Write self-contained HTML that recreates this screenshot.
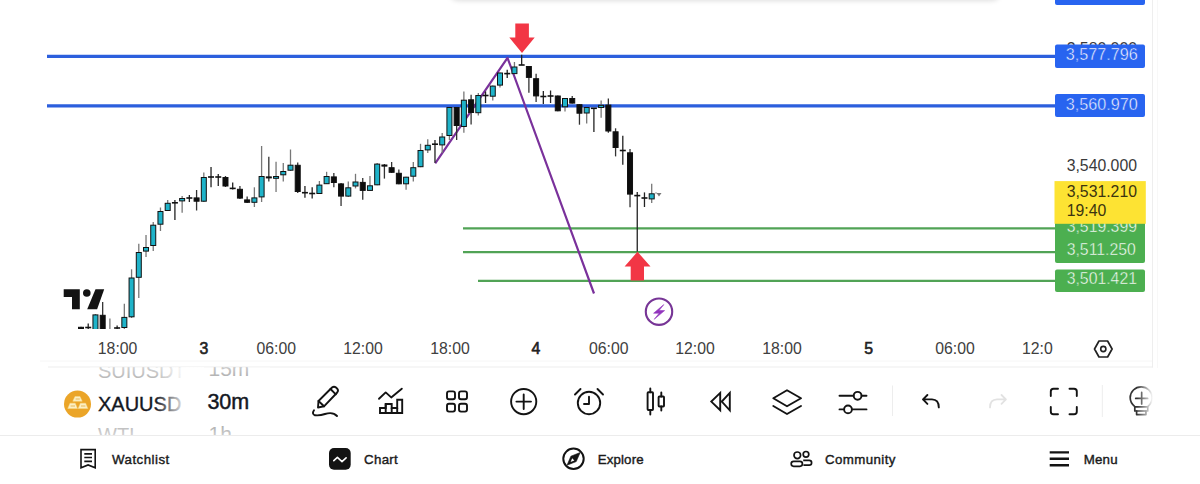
<!DOCTYPE html>
<html><head><meta charset="utf-8">
<style>
html,body{margin:0;padding:0;background:#fff;width:1200px;height:484px;overflow:hidden;}
body{font-family:"Liberation Sans", sans-serif;}
svg{position:absolute;left:0;top:0;display:block;}
text{font-family:"Liberation Sans", sans-serif;}
</style></head><body>
<div style="position:absolute;left:449px;top:-40px;width:552px;height:40px;border-radius:10px;background:#fff;box-shadow:0 0 5px 1px rgba(0,0,0,0.13);"></div>
<svg width="1200" height="484" viewBox="0 0 1200 484">
<defs>
<clipPath id="chartclip"><rect x="0" y="0" width="1152" height="329"/></clipPath>
<linearGradient id="fadeR" x1="0" x2="1" y1="0" y2="0">
<stop offset="0" stop-color="#fff" stop-opacity="0"/><stop offset="1" stop-color="#fff" stop-opacity="1"/>
</linearGradient>
<linearGradient id="fadeTop" x1="0" x2="0" y1="0" y2="1">
<stop offset="0" stop-color="#fff" stop-opacity="1"/><stop offset="1" stop-color="#fff" stop-opacity="0"/>
</linearGradient>
<linearGradient id="fadeBot" x1="0" x2="0" y1="0" y2="1">
<stop offset="0" stop-color="#fff" stop-opacity="0"/><stop offset="1" stop-color="#fff" stop-opacity="1"/>
</linearGradient>
</defs>

<!-- top floating panel shadow -->


<!-- chart panel borders -->
<line x1="1152.5" y1="0" x2="1152.5" y2="367.5" stroke="#eeeeee" stroke-width="1"/>
<line x1="1157.5" y1="0" x2="1157.5" y2="368" stroke="#f8f8f8" stroke-width="1"/>
<line x1="40" y1="361" x2="1152" y2="361" stroke="#f6f6f6" stroke-width="1"/>
<line x1="48" y1="367" x2="1153" y2="367" stroke="#ededed" stroke-width="1"/>

<g clip-path="url(#chartclip)">
<!-- horizontal lines -->
<line x1="47" y1="56.3" x2="1056" y2="56.3" stroke="#2c5fdd" stroke-width="3.3"/>
<line x1="47" y1="105.8" x2="1056" y2="105.8" stroke="#2c5fdd" stroke-width="3.3"/>
<line x1="463" y1="228.3" x2="1056" y2="228.3" stroke="#51a356" stroke-width="2.2"/>
<line x1="463" y1="252.1" x2="1056" y2="252.1" stroke="#51a356" stroke-width="2.2"/>
<line x1="478" y1="280.8" x2="1056" y2="280.8" stroke="#51a356" stroke-width="2.2"/>

<!-- purple trend lines -->
<polyline points="435.2,163.4 507.5,57.8 594,293.5" fill="none" stroke="#7a319b" stroke-width="2.2" stroke-linejoin="round"/>
<line x1="81.00" y1="326.8" x2="81.00" y2="333.0" stroke="#333" stroke-width="1.3"/>
<rect x="78.50" y="327.3" width="5.00" height="5.2" fill="#0d0d0d" stroke="#111" stroke-width="1"/>
<line x1="88.22" y1="323.5" x2="88.22" y2="331.0" stroke="#222" stroke-width="1.3"/>
<line x1="85.22" y1="327.5" x2="91.22" y2="327.5" stroke="#111" stroke-width="1.6"/>
<line x1="95.45" y1="314.0" x2="95.45" y2="335.0" stroke="#777" stroke-width="1.3"/>
<rect x="92.95" y="314.9" width="5.00" height="19.6" fill="#1fb3c9" stroke="#111" stroke-width="1"/>
<line x1="102.67" y1="302.0" x2="102.67" y2="335.0" stroke="#333" stroke-width="1.3"/>
<rect x="100.17" y="315.3" width="5.00" height="19.2" fill="#0d0d0d" stroke="#111" stroke-width="1"/>
<line x1="109.90" y1="318.6" x2="109.90" y2="340.0" stroke="#777" stroke-width="1.3"/>
<rect x="107.40" y="334.5" width="5.00" height="5.0" fill="#1fb3c9" stroke="#111" stroke-width="1"/>
<line x1="117.12" y1="325.6" x2="117.12" y2="331.0" stroke="#222" stroke-width="1.3"/>
<line x1="114.12" y1="328.0" x2="120.12" y2="328.0" stroke="#111" stroke-width="1.6"/>
<line x1="124.34" y1="303.7" x2="124.34" y2="329.5" stroke="#777" stroke-width="1.3"/>
<rect x="121.84" y="317.4" width="5.00" height="10.1" fill="#1fb3c9" stroke="#111" stroke-width="1"/>
<line x1="131.57" y1="269.3" x2="131.57" y2="318.0" stroke="#777" stroke-width="1.3"/>
<rect x="129.07" y="278.0" width="5.00" height="38.8" fill="#1fb3c9" stroke="#111" stroke-width="1"/>
<line x1="138.79" y1="243.7" x2="138.79" y2="298.0" stroke="#777" stroke-width="1.3"/>
<rect x="136.29" y="252.5" width="5.00" height="24.8" fill="#1fb3c9" stroke="#111" stroke-width="1"/>
<line x1="146.02" y1="235.0" x2="146.02" y2="257.0" stroke="#777" stroke-width="1.3"/>
<rect x="143.52" y="247.5" width="5.00" height="3.6" fill="#1fb3c9" stroke="#111" stroke-width="1"/>
<line x1="153.24" y1="222.0" x2="153.24" y2="251.0" stroke="#777" stroke-width="1.3"/>
<rect x="150.74" y="225.2" width="5.00" height="20.3" fill="#1fb3c9" stroke="#111" stroke-width="1"/>
<line x1="160.46" y1="207.5" x2="160.46" y2="231.0" stroke="#777" stroke-width="1.3"/>
<rect x="157.96" y="211.5" width="5.00" height="12.7" fill="#1fb3c9" stroke="#111" stroke-width="1"/>
<line x1="167.69" y1="200.0" x2="167.69" y2="211.0" stroke="#777" stroke-width="1.3"/>
<rect x="165.19" y="203.3" width="5.00" height="7.2" fill="#1fb3c9" stroke="#111" stroke-width="1"/>
<line x1="174.91" y1="200.0" x2="174.91" y2="220.0" stroke="#222" stroke-width="1.3"/>
<line x1="171.91" y1="202.8" x2="177.91" y2="202.8" stroke="#111" stroke-width="1.6"/>
<line x1="182.14" y1="196.0" x2="182.14" y2="212.7" stroke="#777" stroke-width="1.3"/>
<rect x="179.64" y="198.5" width="5.00" height="2.4" fill="#1fb3c9" stroke="#111" stroke-width="1"/>
<line x1="189.36" y1="195.0" x2="189.36" y2="202.0" stroke="#222" stroke-width="1.3"/>
<line x1="186.36" y1="198.0" x2="192.36" y2="198.0" stroke="#111" stroke-width="1.6"/>
<line x1="196.58" y1="190.0" x2="196.58" y2="210.5" stroke="#333" stroke-width="1.3"/>
<rect x="194.08" y="197.9" width="5.00" height="3.3" fill="#0d0d0d" stroke="#111" stroke-width="1"/>
<line x1="203.81" y1="172.6" x2="203.81" y2="202.0" stroke="#777" stroke-width="1.3"/>
<rect x="201.31" y="177.5" width="5.00" height="23.7" fill="#1fb3c9" stroke="#111" stroke-width="1"/>
<line x1="211.03" y1="167.0" x2="211.03" y2="187.3" stroke="#222" stroke-width="1.3"/>
<line x1="208.03" y1="177.0" x2="214.03" y2="177.0" stroke="#111" stroke-width="1.6"/>
<line x1="218.26" y1="174.0" x2="218.26" y2="186.0" stroke="#222" stroke-width="1.3"/>
<line x1="215.26" y1="177.0" x2="221.26" y2="177.0" stroke="#111" stroke-width="1.6"/>
<line x1="225.48" y1="176.0" x2="225.48" y2="187.0" stroke="#333" stroke-width="1.3"/>
<rect x="222.98" y="177.5" width="5.00" height="8.5" fill="#0d0d0d" stroke="#111" stroke-width="1"/>
<line x1="232.70" y1="182.6" x2="232.70" y2="189.6" stroke="#222" stroke-width="1.3"/>
<line x1="229.70" y1="188.4" x2="235.70" y2="188.4" stroke="#111" stroke-width="1.6"/>
<line x1="239.93" y1="186.0" x2="239.93" y2="199.0" stroke="#333" stroke-width="1.3"/>
<rect x="237.43" y="189.3" width="5.00" height="8.8" fill="#0d0d0d" stroke="#111" stroke-width="1"/>
<line x1="247.15" y1="196.6" x2="247.15" y2="203.0" stroke="#333" stroke-width="1.3"/>
<rect x="244.65" y="199.9" width="5.00" height="2.4" fill="#0d0d0d" stroke="#111" stroke-width="1"/>
<line x1="254.38" y1="187.3" x2="254.38" y2="207.0" stroke="#777" stroke-width="1.3"/>
<rect x="251.88" y="197.9" width="5.00" height="4.4" fill="#1fb3c9" stroke="#111" stroke-width="1"/>
<line x1="261.60" y1="146.0" x2="261.60" y2="202.0" stroke="#777" stroke-width="1.3"/>
<rect x="259.10" y="176.5" width="5.00" height="20.4" fill="#1fb3c9" stroke="#111" stroke-width="1"/>
<line x1="268.82" y1="156.7" x2="268.82" y2="181.5" stroke="#333" stroke-width="1.3"/>
<rect x="266.32" y="176.9" width="5.00" height="1.0" fill="#0d0d0d" stroke="#111" stroke-width="1"/>
<line x1="276.05" y1="161.7" x2="276.05" y2="192.0" stroke="#777" stroke-width="1.3"/>
<rect x="273.55" y="176.5" width="5.00" height="1.8" fill="#1fb3c9" stroke="#111" stroke-width="1"/>
<line x1="283.27" y1="163.0" x2="283.27" y2="181.5" stroke="#777" stroke-width="1.3"/>
<rect x="280.77" y="171.5" width="5.00" height="3.3" fill="#1fb3c9" stroke="#111" stroke-width="1"/>
<line x1="290.50" y1="149.5" x2="290.50" y2="171.0" stroke="#777" stroke-width="1.3"/>
<rect x="288.00" y="165.2" width="5.00" height="5.0" fill="#1fb3c9" stroke="#111" stroke-width="1"/>
<line x1="297.72" y1="162.5" x2="297.72" y2="193.0" stroke="#333" stroke-width="1.3"/>
<rect x="295.22" y="165.3" width="5.00" height="26.2" fill="#0d0d0d" stroke="#111" stroke-width="1"/>
<line x1="304.94" y1="186.0" x2="304.94" y2="197.7" stroke="#222" stroke-width="1.3"/>
<line x1="301.94" y1="192.7" x2="307.94" y2="192.7" stroke="#111" stroke-width="1.6"/>
<line x1="312.17" y1="187.3" x2="312.17" y2="198.6" stroke="#222" stroke-width="1.3"/>
<line x1="309.17" y1="193.5" x2="315.17" y2="193.5" stroke="#111" stroke-width="1.6"/>
<line x1="319.39" y1="181.0" x2="319.39" y2="194.0" stroke="#777" stroke-width="1.3"/>
<rect x="316.89" y="185.1" width="5.00" height="8.4" fill="#1fb3c9" stroke="#111" stroke-width="1"/>
<line x1="326.62" y1="171.8" x2="326.62" y2="184.0" stroke="#777" stroke-width="1.3"/>
<rect x="324.12" y="176.5" width="5.00" height="7.2" fill="#1fb3c9" stroke="#111" stroke-width="1"/>
<line x1="333.84" y1="173.0" x2="333.84" y2="187.3" stroke="#333" stroke-width="1.3"/>
<rect x="331.34" y="176.9" width="5.00" height="5.6" fill="#0d0d0d" stroke="#111" stroke-width="1"/>
<line x1="341.06" y1="183.0" x2="341.06" y2="206.0" stroke="#333" stroke-width="1.3"/>
<rect x="338.56" y="183.9" width="5.00" height="12.2" fill="#0d0d0d" stroke="#111" stroke-width="1"/>
<line x1="348.29" y1="181.5" x2="348.29" y2="197.0" stroke="#777" stroke-width="1.3"/>
<rect x="345.79" y="187.8" width="5.00" height="8.3" fill="#1fb3c9" stroke="#111" stroke-width="1"/>
<line x1="355.51" y1="173.8" x2="355.51" y2="188.4" stroke="#777" stroke-width="1.3"/>
<rect x="353.01" y="182.0" width="5.00" height="4.0" fill="#1fb3c9" stroke="#111" stroke-width="1"/>
<line x1="362.74" y1="178.0" x2="362.74" y2="199.7" stroke="#333" stroke-width="1.3"/>
<rect x="360.24" y="182.4" width="5.00" height="8.0" fill="#0d0d0d" stroke="#111" stroke-width="1"/>
<line x1="369.96" y1="176.0" x2="369.96" y2="191.0" stroke="#777" stroke-width="1.3"/>
<rect x="367.46" y="185.8" width="5.00" height="4.6" fill="#1fb3c9" stroke="#111" stroke-width="1"/>
<line x1="377.18" y1="163.0" x2="377.18" y2="185.3" stroke="#777" stroke-width="1.3"/>
<rect x="374.68" y="164.1" width="5.00" height="20.7" fill="#1fb3c9" stroke="#111" stroke-width="1"/>
<line x1="384.41" y1="164.0" x2="384.41" y2="178.6" stroke="#333" stroke-width="1.3"/>
<rect x="381.91" y="165.0" width="5.00" height="1.1" fill="#0d0d0d" stroke="#111" stroke-width="1"/>
<line x1="391.63" y1="162.0" x2="391.63" y2="173.0" stroke="#333" stroke-width="1.3"/>
<rect x="389.13" y="167.7" width="5.00" height="4.6" fill="#0d0d0d" stroke="#111" stroke-width="1"/>
<line x1="398.86" y1="169.5" x2="398.86" y2="184.3" stroke="#333" stroke-width="1.3"/>
<rect x="396.36" y="173.3" width="5.00" height="10.5" fill="#0d0d0d" stroke="#111" stroke-width="1"/>
<line x1="406.08" y1="176.7" x2="406.08" y2="189.7" stroke="#777" stroke-width="1.3"/>
<rect x="403.58" y="177.2" width="5.00" height="6.6" fill="#1fb3c9" stroke="#111" stroke-width="1"/>
<line x1="413.30" y1="162.0" x2="413.30" y2="181.4" stroke="#777" stroke-width="1.3"/>
<rect x="410.80" y="167.7" width="5.00" height="8.5" fill="#1fb3c9" stroke="#111" stroke-width="1"/>
<line x1="420.53" y1="143.8" x2="420.53" y2="167.2" stroke="#777" stroke-width="1.3"/>
<rect x="418.03" y="150.5" width="5.00" height="16.2" fill="#1fb3c9" stroke="#111" stroke-width="1"/>
<line x1="427.75" y1="139.2" x2="427.75" y2="152.9" stroke="#777" stroke-width="1.3"/>
<rect x="425.25" y="145.3" width="5.00" height="4.6" fill="#1fb3c9" stroke="#111" stroke-width="1"/>
<line x1="434.98" y1="139.9" x2="434.98" y2="162.8" stroke="#222" stroke-width="1.3"/>
<line x1="431.98" y1="144.2" x2="437.98" y2="144.2" stroke="#111" stroke-width="1.6"/>
<line x1="442.20" y1="133.0" x2="442.20" y2="152.9" stroke="#777" stroke-width="1.3"/>
<rect x="439.70" y="137.0" width="5.00" height="7.9" fill="#1fb3c9" stroke="#111" stroke-width="1"/>
<line x1="449.42" y1="107.0" x2="449.42" y2="140.0" stroke="#777" stroke-width="1.3"/>
<rect x="446.92" y="107.5" width="5.00" height="28.0" fill="#1fb3c9" stroke="#111" stroke-width="1"/>
<line x1="456.65" y1="107.0" x2="456.65" y2="140.0" stroke="#333" stroke-width="1.3"/>
<rect x="454.15" y="107.5" width="5.00" height="18.0" fill="#0d0d0d" stroke="#111" stroke-width="1"/>
<line x1="463.87" y1="91.4" x2="463.87" y2="132.7" stroke="#777" stroke-width="1.3"/>
<rect x="461.37" y="100.2" width="5.00" height="26.3" fill="#1fb3c9" stroke="#111" stroke-width="1"/>
<line x1="471.10" y1="94.7" x2="471.10" y2="124.5" stroke="#333" stroke-width="1.3"/>
<rect x="468.60" y="99.8" width="5.00" height="12.7" fill="#0d0d0d" stroke="#111" stroke-width="1"/>
<line x1="478.32" y1="93.0" x2="478.32" y2="115.4" stroke="#777" stroke-width="1.3"/>
<rect x="475.82" y="95.5" width="5.00" height="17.2" fill="#1fb3c9" stroke="#111" stroke-width="1"/>
<line x1="485.54" y1="91.4" x2="485.54" y2="103.0" stroke="#222" stroke-width="1.3"/>
<line x1="482.54" y1="95.5" x2="488.54" y2="95.5" stroke="#111" stroke-width="1.6"/>
<line x1="492.77" y1="85.6" x2="492.77" y2="100.5" stroke="#777" stroke-width="1.3"/>
<rect x="490.27" y="86.1" width="5.00" height="10.1" fill="#1fb3c9" stroke="#111" stroke-width="1"/>
<line x1="499.99" y1="72.5" x2="499.99" y2="87.5" stroke="#777" stroke-width="1.3"/>
<rect x="497.49" y="73.0" width="5.00" height="12.1" fill="#1fb3c9" stroke="#111" stroke-width="1"/>
<line x1="507.22" y1="69.8" x2="507.22" y2="78.0" stroke="#222" stroke-width="1.3"/>
<line x1="504.22" y1="73.6" x2="510.22" y2="73.6" stroke="#111" stroke-width="1.6"/>
<line x1="514.44" y1="62.0" x2="514.44" y2="74.1" stroke="#777" stroke-width="1.3"/>
<rect x="511.94" y="67.0" width="5.00" height="6.6" fill="#1fb3c9" stroke="#111" stroke-width="1"/>
<line x1="521.66" y1="54.7" x2="521.66" y2="65.0" stroke="#222" stroke-width="1.3"/>
<line x1="518.66" y1="65.0" x2="524.66" y2="65.0" stroke="#111" stroke-width="1.6"/>
<line x1="528.89" y1="66.0" x2="528.89" y2="92.7" stroke="#333" stroke-width="1.3"/>
<rect x="526.39" y="66.5" width="5.00" height="10.9" fill="#0d0d0d" stroke="#111" stroke-width="1"/>
<line x1="536.11" y1="73.7" x2="536.11" y2="102.0" stroke="#333" stroke-width="1.3"/>
<rect x="533.61" y="78.7" width="5.00" height="17.2" fill="#0d0d0d" stroke="#111" stroke-width="1"/>
<line x1="543.34" y1="91.0" x2="543.34" y2="104.0" stroke="#222" stroke-width="1.3"/>
<line x1="540.34" y1="96.5" x2="546.34" y2="96.5" stroke="#111" stroke-width="1.6"/>
<line x1="550.56" y1="90.5" x2="550.56" y2="103.0" stroke="#222" stroke-width="1.3"/>
<line x1="547.56" y1="96.0" x2="553.56" y2="96.0" stroke="#111" stroke-width="1.6"/>
<line x1="557.78" y1="95.5" x2="557.78" y2="111.3" stroke="#333" stroke-width="1.3"/>
<rect x="555.28" y="96.0" width="5.00" height="14.8" fill="#0d0d0d" stroke="#111" stroke-width="1"/>
<line x1="565.01" y1="98.0" x2="565.01" y2="111.6" stroke="#777" stroke-width="1.3"/>
<rect x="562.51" y="98.5" width="5.00" height="8.3" fill="#1fb3c9" stroke="#111" stroke-width="1"/>
<line x1="572.23" y1="95.9" x2="572.23" y2="103.6" stroke="#333" stroke-width="1.3"/>
<rect x="569.73" y="98.5" width="5.00" height="4.6" fill="#0d0d0d" stroke="#111" stroke-width="1"/>
<line x1="579.46" y1="104.0" x2="579.46" y2="124.7" stroke="#333" stroke-width="1.3"/>
<rect x="576.96" y="104.7" width="5.00" height="8.5" fill="#0d0d0d" stroke="#111" stroke-width="1"/>
<line x1="586.68" y1="107.0" x2="586.68" y2="123.4" stroke="#777" stroke-width="1.3"/>
<rect x="584.18" y="107.5" width="5.00" height="5.5" fill="#1fb3c9" stroke="#111" stroke-width="1"/>
<line x1="593.90" y1="108.0" x2="593.90" y2="132.0" stroke="#222" stroke-width="1.3"/>
<line x1="590.90" y1="108.3" x2="596.90" y2="108.3" stroke="#111" stroke-width="1.6"/>
<line x1="601.13" y1="100.5" x2="601.13" y2="117.8" stroke="#777" stroke-width="1.3"/>
<rect x="598.63" y="105.3" width="5.00" height="2.2" fill="#1fb3c9" stroke="#111" stroke-width="1"/>
<line x1="608.35" y1="98.4" x2="608.35" y2="132.7" stroke="#333" stroke-width="1.3"/>
<rect x="605.85" y="105.1" width="5.00" height="25.9" fill="#0d0d0d" stroke="#111" stroke-width="1"/>
<line x1="615.58" y1="128.3" x2="615.58" y2="156.4" stroke="#333" stroke-width="1.3"/>
<rect x="613.08" y="131.8" width="5.00" height="15.7" fill="#0d0d0d" stroke="#111" stroke-width="1"/>
<line x1="622.80" y1="135.7" x2="622.80" y2="164.7" stroke="#222" stroke-width="1.3"/>
<line x1="619.80" y1="150.5" x2="625.80" y2="150.5" stroke="#111" stroke-width="1.6"/>
<line x1="630.02" y1="149.0" x2="630.02" y2="207.3" stroke="#333" stroke-width="1.3"/>
<rect x="627.52" y="152.8" width="5.00" height="41.3" fill="#0d0d0d" stroke="#111" stroke-width="1"/>
<line x1="637.25" y1="192.0" x2="637.25" y2="251.6" stroke="#222" stroke-width="1.3"/>
<line x1="634.25" y1="195.6" x2="640.25" y2="195.6" stroke="#111" stroke-width="1.6"/>
<line x1="644.47" y1="192.4" x2="644.47" y2="207.0" stroke="#222" stroke-width="1.3"/>
<line x1="641.47" y1="198.0" x2="647.47" y2="198.0" stroke="#111" stroke-width="1.6"/>
<line x1="651.70" y1="183.7" x2="651.70" y2="203.0" stroke="#777" stroke-width="1.3"/>
<rect x="649.20" y="193.8" width="5.00" height="5.1" fill="#1fb3c9" stroke="#111" stroke-width="1"/>


<!-- red arrows -->
<path d="M515.3,23.6 H528.9 V37.4 H534.7 L522,53 L509.3,37.4 H515.3 Z" fill="#f23645"/>
<path d="M637.5,251.8 L650.5,266.4 H644 V280.5 H630.7 V266.4 H624.6 Z" fill="#f23645"/>

<!-- current price marker -->
<path d="M656.5,193 H661.5 L659,196.5 Z" fill="#777"/>
<line x1="655" y1="193" x2="657" y2="193" stroke="#999" stroke-width="1"/>

<!-- TV logo -->
<path d="M63.7,289.3 H79.8 V309.3 H72 V297 H63.7 Z" fill="#131313"/>
<circle cx="86.8" cy="293" r="3.8" fill="#131313"/>
<path d="M95.5,289.3 H104.2 L97.1,309.3 H87.2 Z" fill="#131313"/>

<!-- lightning -->
<circle cx="659" cy="311.7" r="13.2" fill="#fff" stroke="#773596" stroke-width="2.1"/>
<path d="M663.8,304.6 L653.6,313.2 L659.2,313.2 L654.2,319.3 L664.6,310.6 L659,310.6 Z" fill="#9234bd" stroke="#9234bd" stroke-width="0.6" stroke-linejoin="round"/>
</g>

<!-- price labels -->
<g font-size="15.8" fill="#333">
<text x="1066.7" y="171.1" fill="#3a3a3a">3,540.000</text>
</g>
<!-- partially hidden 3,580.000 -->
<text x="1066.7" y="53.8" font-size="15.8" fill="#3a3a3a">3,580.000</text>

<rect x="1055" y="-8" width="90" height="13" rx="2" fill="#2864f0"/>
<rect x="1055" y="44.6" width="90" height="23.4" rx="2" fill="#2864f0"/>
<text x="1065.8" y="60.4" font-size="16.2" fill="#fff" stroke="#2864f0" stroke-width="0.45">3,577.796</text>
<rect x="1055" y="94" width="90" height="23" rx="2" fill="#2864f0"/>
<text x="1065.8" y="109.9" font-size="16.2" fill="#fff" stroke="#2864f0" stroke-width="0.45">3,560.970</text>

<!-- green labels -->
<rect x="1055" y="217" width="90" height="46" rx="2" fill="#4caf50"/>
<text x="1066.7" y="232.4" font-size="15.8" fill="#fff" stroke="#4caf50" stroke-width="0.4">3,519.399</text>
<text x="1066.7" y="255.1" font-size="15.8" fill="#fff" stroke="#4caf50" stroke-width="0.4">3,511.250</text>
<rect x="1055" y="269.5" width="90" height="22.5" rx="2" fill="#4caf50"/>
<text x="1066.7" y="284.4" font-size="15.8" fill="#fff" stroke="#4caf50" stroke-width="0.4">3,501.421</text>

<!-- yellow label -->
<rect x="1054.5" y="181.1" width="91.3" height="42.7" fill="#fde333"/>
<text x="1066.7" y="196.6" font-size="15.8" fill="#3b3410">3,531.210</text>
<text x="1066.7" y="216.2" font-size="15.8" fill="#3b3410">19:40</text>

<!-- time axis -->
<g font-size="15.8" fill="#404040" text-anchor="middle">
<text x="117.6" y="354.4">18:00</text>
<text x="204" y="354.4" fill="#222" stroke="#222" stroke-width="0.6">3</text>
<text x="276.3" y="354.4">06:00</text>
<text x="363" y="354.4">12:00</text>
<text x="450" y="354.4">18:00</text>
<text x="536" y="354.4" fill="#222" stroke="#222" stroke-width="0.6">4</text>
<text x="608.7" y="354.4">06:00</text>
<text x="695" y="354.4">12:00</text>
<text x="782" y="354.4">18:00</text>
<text x="868.7" y="354.4" fill="#222" stroke="#222" stroke-width="0.6">5</text>
<text x="955" y="354.4">06:00</text>
<text x="1022" y="354.4" text-anchor="start">12:0</text>
</g>
<rect x="1053" y="338" width="40" height="22" fill="#fff"/>
<!-- hexagon settings -->
<path d="M1094.5,349 L1099,341 H1107.6 L1112.1,349 L1107.6,357 H1099 Z" fill="none" stroke="#222" stroke-width="1.7" stroke-linejoin="round"/>
<circle cx="1103.3" cy="349" r="2.6" fill="none" stroke="#222" stroke-width="1.6"/>

<!-- symbol picker -->
<clipPath id="pickclip"><rect x="0" y="367.2" width="300" height="67.8"/></clipPath>
<g clip-path="url(#pickclip)">
<g font-size="20">
<text x="98" y="378.3" fill="#b4b4b4">SUIUSDT</text>
<text x="208.5" y="376" fill="#a8a8a8" font-size="21">15m</text>
<text x="98" y="411" fill="#131722" stroke="#131722" stroke-width="0.35">XAUUSD</text>
<text x="207.4" y="408.9" fill="#131722" stroke="#131722" stroke-width="0.45" font-size="21.5">30m</text>
<text x="98" y="442.3" fill="#b4b4b4">WTI</text>
<text x="208.5" y="441" fill="#a8a8a8" font-size="21">1h</text>
</g>
<rect x="155" y="366" width="32" height="70" fill="url(#fadeR)"/>
<rect x="187" y="366" width="17" height="70" fill="#fff"/>
<rect x="90" y="366" width="180" height="14" fill="url(#fadeTop)" opacity="0.45"/>
<rect x="90" y="423" width="180" height="13" fill="url(#fadeBot)" opacity="0.45"/>
</g>

<!-- gold coin -->
<circle cx="77.5" cy="404.1" r="13.5" fill="#eba528"/>
<g fill="#fcefc4" stroke="#f7dc8a" stroke-width="0.5" stroke-linejoin="round">
<path d="M75,396.5 H80 L82.2,401.2 H72.8 Z"/>
<path d="M70,403.2 H75.2 L77.4,408.5 H67.8 Z"/>
<path d="M80.4,403.2 H85.6 L87.8,408.5 H78.2 Z"/>
</g>
<g stroke="#e3b24c" stroke-width="0.9" stroke-linecap="round">
<path d="M76,399 H79.4 M71,406 H74.6 M81.4,406 H85"/>
</g>

<!-- toolbar separators -->
<line x1="892.5" y1="385.5" x2="892.5" y2="416" stroke="#ededed" stroke-width="1"/>
<line x1="1102.3" y1="385" x2="1102.3" y2="417" stroke="#ededed" stroke-width="1"/>

<!-- toolbar icons -->
<g fill="none" stroke="#131313" stroke-width="1.9" stroke-linecap="round" stroke-linejoin="round">
<!-- pencil -->
<path d="M318,407.5 L318.5,401 L332,387.5 Q334,385.8 336,387.5 L337.2,388.7 Q338.8,390.6 337.2,392.5 L324,406.3 Z"/>
<path d="M330.5,389 L335.8,394.3"/>
<path d="M318.5,401 L324,406.3"/>
<path d="M314,410.3 Q311.5,414 315,415.3 Q320,415.8 325,414 Q333,411.5 337,416"/>
<!-- chart/bars -->
<path d="M379,398.8 L385.7,392.4 L391.2,397.4 L401.8,388.7"/>
<path d="M380,413 V408 H385.7 V404 H391.7 V408 H397.2 V399.7 H402.2 V413 Z" stroke-linejoin="miter" stroke-linecap="butt"/>
<path d="M385.7,404 V413 M391.7,408 V413 M397.2,408 V413"/>
<!-- grid -->
<rect x="447" y="391.4" width="8" height="7.8" rx="2"/>
<rect x="459" y="391.4" width="8" height="7.8" rx="2"/>
<rect x="447" y="403.8" width="8" height="7.8" rx="2"/>
<rect x="459" y="403.8" width="8" height="7.8" rx="2"/>
<!-- plus circle -->
<circle cx="523.7" cy="401.6" r="12.6"/>
<path d="M516.4,401.6 H531 M523.7,394.4 V409"/>
<!-- alarm -->
<circle cx="589" cy="403" r="11.2"/>
<path d="M589,396.8 V404 H584"/>
<path d="M575,394.5 L580.5,389 M597.5,389 L603,394.5"/>
<!-- candles icon -->
<path d="M650.3,388.5 V392.3 M650.3,410 V414.5 M661.3,392.5 V396.5 M661.3,406.5 V410.5"/>
<rect x="647.6" y="392.3" width="5.4" height="17.7" rx="0.8"/>
<rect x="658.6" y="396.5" width="5.4" height="10" rx="0.8"/>
<!-- rewind -->
<path d="M720.2,392.9 V410.3 L711.3,401.6 Z M729.8,392.9 V410.3 L721.8,401.6 Z" stroke-linejoin="miter"/>
<!-- layers -->
<path d="M773.3,398.3 L787,390.3 L801,398.3 L787,406.3 Z"/>
<path d="M773.3,406 L787,414 L801,406"/>
<!-- sliders -->
<path d="M839.5,395.8 H853.5 M861.7,395.8 H866.5 M839.5,409.4 H844 M852.2,409.4 H866.5"/>
<circle cx="857.6" cy="395.8" r="3.9"/>
<circle cx="848" cy="409.4" r="3.9"/>
<!-- undo -->
<path d="M927.4,395 L923,399.4 L927.4,403.9 M923,399.4 H932 Q938.8,399.6 938.8,407.4"/>
<!-- fullscreen -->
<path d="M1050.8,396 V391.5 Q1050.8,388.8 1053.5,388.8 H1058 M1069.5,388.8 H1074 Q1076.8,388.8 1076.8,391.5 V396 M1076.8,407 V411.5 Q1076.8,414.3 1074,414.3 H1069.5 M1058,414.3 H1053.5 Q1050.8,414.3 1050.8,411.5 V407"/>
</g>
<!-- redo (light) -->
<path d="M1001.5,395 L1005.9,399.4 L1001.5,403.9 M1005.9,399.4 H997 Q990,399.6 990,407.4" fill="none" stroke="#e2e2e2" stroke-width="1.8" stroke-linecap="round" stroke-linejoin="round"/>
<!-- bulb -->
<g fill="none" stroke="#333" stroke-width="1.7" stroke-linecap="round" stroke-linejoin="round">
<path d="M1134.8,406.6 Q1130.2,403 1130.2,397.8 A11,11 0 0 1 1152.2,397.8 Q1152.2,403 1147.8,406.6"/>
<path d="M1135.7,398.4 H1147.7 M1141.7,392.4 V404"/>
<path d="M1134.8,406.8 H1147.8 V411 H1134.8 Z"/>
<path d="M1136.6,411 V414.6 H1146 V411"/>
</g>
<rect x="1137" y="380" width="16" height="40" fill="url(#fadeR)"/>
<rect x="1153" y="370" width="47" height="60" fill="#fff"/>

<!-- bottom nav separator -->
<line x1="0" y1="435.5" x2="1200" y2="435.5" stroke="#ececec" stroke-width="1"/>

<!-- bottom nav -->
<g font-size="13.3" fill="#1a1a1a" stroke="#1a1a1a" stroke-width="0.4">
<text x="112" y="464.3" textLength="57.3">Watchlist</text>
<text x="364" y="464.3" textLength="33.8">Chart</text>
<text x="597.7" y="464.3" textLength="45.9">Explore</text>
<text x="825" y="464.3" textLength="70.4">Community</text>
<text x="1083.7" y="464.3" textLength="33.9">Menu</text>
</g>
<!-- watchlist icon -->
<g fill="none" stroke="#131313" stroke-width="1.6">
<path d="M81,449.6 H95.2 V467.8 L88.1,464.9 L81,467.8 Z"/>
<path d="M84.3,453.9 H92 M84.3,457.5 H92 M84.3,461.4 H92"/>
</g>
<!-- chart nav icon -->
<rect x="329" y="448.1" width="21.7" height="21.7" rx="5" fill="#131313"/>
<path d="M333.8,460.6 L337.4,457.4 L342,461.6 L346.1,457.9" fill="none" stroke="#fff" stroke-width="1.6" stroke-linecap="round" stroke-linejoin="round"/>
<!-- explore icon -->
<circle cx="573.5" cy="458.8" r="10.2" fill="none" stroke="#131313" stroke-width="2"/>
<path d="M580.2,452.5 L576.2,461.6 L567,465.2 L570.9,456.2 Z" fill="#131313" stroke="#131313" stroke-width="0.6" stroke-linejoin="round"/>
<path d="M570.6,462 L572.2,458.2 L574.4,460.4 Z" fill="#fff"/>
<!-- community icon -->
<g fill="none" stroke="#131313" stroke-width="1.7">
<circle cx="797.3" cy="455.3" r="3.3"/>
<circle cx="806" cy="454.3" r="2.8"/>
<path d="M803.2,460.3 H809.2 A2.4,2.4 0 0 1 809.2,465.1 H803.4"/>
<rect x="791.2" y="461.4" width="11.2" height="4.9" rx="2.45" fill="#fff"/>
</g>
<!-- menu icon -->
<g stroke="#131313" stroke-width="2.4">
<path d="M1049.7,452.4 H1069 M1049.7,458.8 H1069 M1049.7,465.2 H1069"/>
</g>
</svg>
</body></html>
